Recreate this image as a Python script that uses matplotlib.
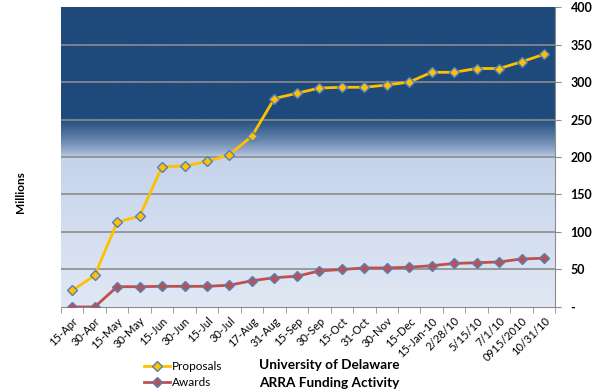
import numpy as np
import matplotlib
matplotlib.use("Agg")
import matplotlib.pyplot as plt
from matplotlib.colors import to_rgb

plt.rcParams['font.family'] = ['Lato', 'DejaVu Sans']

# data (millions)
dates = ["15-Apr", "30-Apr", "15-May", "30-May", "15-Jun", "30-Jun", "15-Jul",
         "30-Jul", "17-Aug", "31-Aug", "15-Sep", "30-Sep", "15-Oct", "31-Oct",
         "30-Nov", "15-Dec", "15-Jan-10", "2/28/10", "5/15/10", "7/1/10",
         "0915/2010", "10/31/10"]
proposals = [22, 42, 113, 121, 187, 188, 194, 203, 228, 278, 285,
             292, 293, 293, 296, 300, 313, 313, 318, 318, 327, 337]
awards = [0, 0, 27, 27, 27.5, 27.5, 27.5, 29, 35, 39, 41,
          48, 50, 52, 52, 53, 55, 58, 59, 60, 64, 65]
yticks = [0, 50, 100, 150, 200, 250, 300, 350, 400]
ytick_labels = ["-", "50", "100", "150", "200", "250", "300", "350", "400"]

fig = plt.figure(figsize=(5.92, 3.92), dpi=100)
ax = fig.add_axes([0.103, 0.217, 0.835, 0.765])

x = np.arange(len(dates))
ax.set_xlim(-0.5, len(dates) - 0.5)
ax.set_ylim(0, 400)

# background gradient (navy on top, light blue below)
navy = np.array(to_rgb("#1F4A7C"))
mid = np.array(to_rgb("#C5D3EB"))
low = np.array(to_rgb("#E1E8F4"))
v = np.linspace(0, 400, 801)
cols = np.zeros((len(v), 3))
for i, val in enumerate(v):
    if val >= 252:
        cols[i] = navy
    elif val >= 200:
        t = ((val - 200) / 52) ** 0.7
        cols[i] = mid * (1 - t) + navy * t
    else:
        t = val / 200
        cols[i] = low * (1 - t) + mid * t
ax.imshow(cols[:, None, :], extent=[-0.5, len(dates) - 0.5, 0, 400],
          origin="lower", aspect="auto", zorder=0)

for yv in yticks[1:-1]:
    ax.axhline(yv, color="#8C8C8C", lw=1.2, zorder=1)

ax.plot(x, proposals, color="#FFC000", lw=2, marker="D", markersize=5.5,
        markerfacecolor="#FFC000", markeredgecolor="#4F81BD", markeredgewidth=1,
        label="Proposals", zorder=3)
ax.plot(x, awards, color="#C0504D", lw=2, marker="D", markersize=5.5,
        markerfacecolor="#C0504D", markeredgecolor="#4F81BD", markeredgewidth=1,
        label="Awards", zorder=3)

ax.yaxis.tick_right()
ax.set_yticks(yticks)
ax.set_yticklabels(ytick_labels, fontsize=9, fontweight="bold")
ax.tick_params(axis="y", length=4, color="#8C8C8C", pad=7)

ax.set_xticks(x)
ax.set_xticklabels(dates, rotation=45, ha="right", rotation_mode="anchor",
                   fontsize=8)
ax.set_xticks(np.arange(-0.5, len(dates), 1), minor=True)
ax.tick_params(axis="x", which="major", length=0, pad=6)
ax.tick_params(axis="x", which="minor", length=4, color="#8C8C8C")

for s in ["top", "left"]:
    ax.spines[s].set_visible(False)
for s in ["bottom", "right"]:
    ax.spines[s].set_color("#8C8C8C")

fig.text(0.034, 0.51, "Millions", rotation=90, fontsize=8.5,
         fontweight="bold", ha="center", va="center")

fig.legend(loc="upper left", bbox_to_anchor=(0.233, 0.095), frameon=False,
           fontsize=8.5, handlelength=2.2, handletextpad=0.2, labelspacing=0.45,
           borderpad=0)

fig.text(0.557, 0.068, "University of Delaware", fontsize=9.8,
         fontweight="bold", ha="center", va="center")
fig.text(0.557, 0.022, "ARRA Funding Activity", fontsize=9.8,
         fontweight="bold", ha="center", va="center")

fig.savefig("out.png", dpi=100)
